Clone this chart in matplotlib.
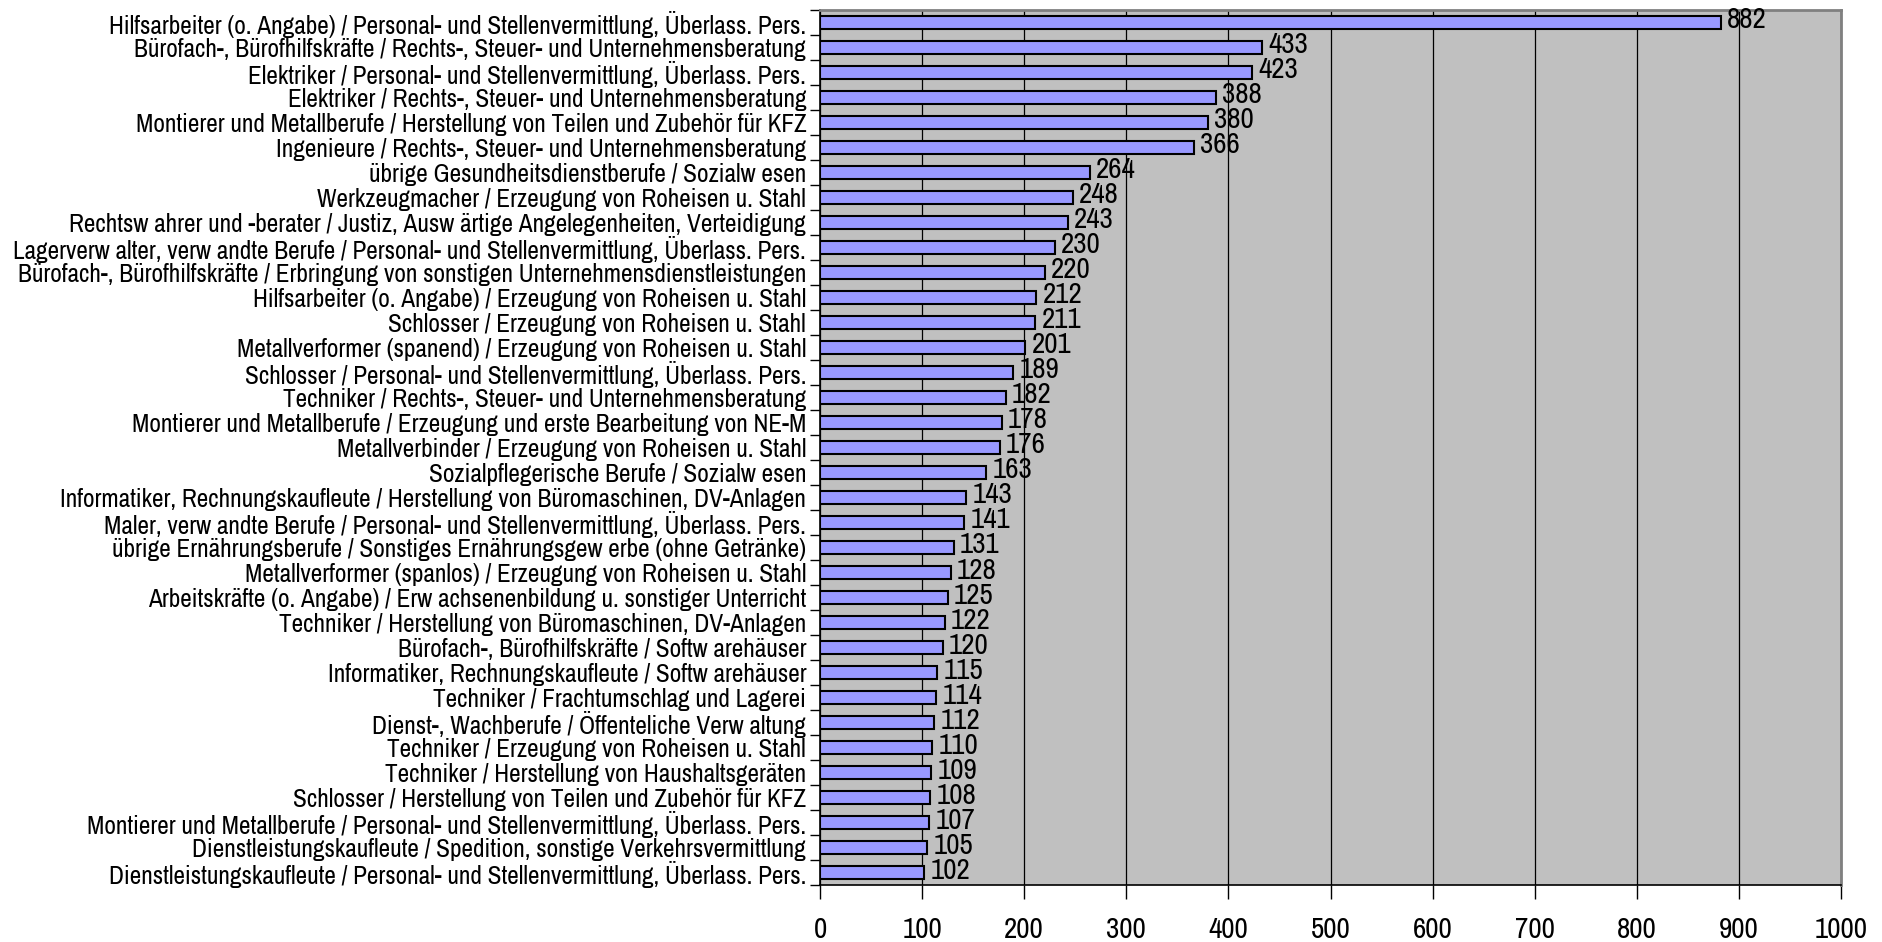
import matplotlib
matplotlib.use("Agg")
import matplotlib.pyplot as plt
from matplotlib import font_manager
from matplotlib.ticker import FixedLocator

categories = [
    "Hilfsarbeiter (o. Angabe) / Personal- und Stellenvermittlung, Überlass. Pers.",
    "Bürofach-, Bürofhilfskräfte / Rechts-, Steuer- und Unternehmensberatung",
    "Elektriker / Personal- und Stellenvermittlung, Überlass. Pers.",
    "Elektriker / Rechts-, Steuer- und Unternehmensberatung",
    "Montierer und Metallberufe / Herstellung von Teilen und Zubehör für KFZ",
    "Ingenieure / Rechts-, Steuer- und Unternehmensberatung",
    "übrige Gesundheitsdienstberufe / Sozialw esen",
    "Werkzeugmacher / Erzeugung von Roheisen u. Stahl",
    "Rechtsw ahrer und -berater / Justiz, Ausw ärtige Angelegenheiten, Verteidigung",
    "Lagerverw alter, verw andte Berufe / Personal- und Stellenvermittlung, Überlass. Pers.",
    "Bürofach-, Bürofhilfskräfte / Erbringung von sonstigen Unternehmensdienstleistungen",
    "Hilfsarbeiter (o. Angabe) / Erzeugung von Roheisen u. Stahl",
    "Schlosser / Erzeugung von Roheisen u. Stahl",
    "Metallverformer (spanend) / Erzeugung von Roheisen u. Stahl",
    "Schlosser / Personal- und Stellenvermittlung, Überlass. Pers.",
    "Techniker / Rechts-, Steuer- und Unternehmensberatung",
    "Montierer und Metallberufe / Erzeugung und erste Bearbeitung von NE-M",
    "Metallverbinder / Erzeugung von Roheisen u. Stahl",
    "Sozialpflegerische Berufe / Sozialw esen",
    "Informatiker, Rechnungskaufleute / Herstellung von Büromaschinen, DV-Anlagen",
    "Maler, verw andte Berufe / Personal- und Stellenvermittlung, Überlass. Pers.",
    "übrige Ernährungsberufe / Sonstiges Ernährungsgew erbe (ohne Getränke)",
    "Metallverformer (spanlos) / Erzeugung von Roheisen u. Stahl",
    "Arbeitskräfte (o. Angabe) / Erw achsenenbildung u. sonstiger Unterricht",
    "Techniker / Herstellung von Büromaschinen, DV-Anlagen",
    "Bürofach-, Bürofhilfskräfte / Softw arehäuser",
    "Informatiker, Rechnungskaufleute / Softw arehäuser",
    "Techniker / Frachtumschlag und Lagerei",
    "Dienst-, Wachberufe / Öffenteliche Verw altung",
    "Techniker / Erzeugung von Roheisen u. Stahl",
    "Techniker / Herstellung von Haushaltsgeräten",
    "Schlosser / Herstellung von Teilen und Zubehör für KFZ",
    "Montierer und Metallberufe / Personal- und Stellenvermittlung, Überlass. Pers.",
    "Dienstleistungskaufleute / Spedition, sonstige Verkehrsvermittlung",
    "Dienstleistungskaufleute / Personal- und Stellenvermittlung, Überlass. Pers.",
]
values = [882, 433, 423, 388, 380, 366, 264, 248, 243, 230, 220, 212, 211, 201,
          189, 182, 178, 176, 163, 143, 141, 131, 128, 125, 122, 120, 115, 114,
          112, 110, 109, 108, 107, 105, 102]
x_ticks = list(range(0, 1001, 100))

# prefer a narrow sans if one is installed, otherwise plain Liberation Sans
narrow = None
for f in font_manager.fontManager.ttflist:
    n = f.name.lower()
    if ("narrow" in n or "condensed" in n) and "mono" not in n and f.style == "normal" \
            and f.weight in (400, "normal", "regular"):
        narrow = f.name
        break
plt.rcParams["font.family"] = [narrow or "Liberation Sans", "DejaVu Sans"]

fig = plt.figure(figsize=(18.83, 9.42), dpi=100)
ax = fig.add_axes([0.4355, 0.0605, 0.5422, 0.9289])

ax.set_facecolor("#c0c0c0")
ypos = list(range(len(categories)))
ax.barh(ypos, values, height=0.5, color="#9999ff", edgecolor="black",
        linewidth=1.5, zorder=3)

for y, v in zip(ypos, values):
    ax.text(v + 6, y - 0.1, str(v), va="center", ha="left", fontsize=21, zorder=4)

ax.set_xlim(0, 1000)
ax.set_ylim(len(categories) - 0.5, -0.5)
ax.set_xticks(x_ticks)
ax.set_xticklabels([str(t) for t in x_ticks])
ax.xaxis.grid(True, color="black", linewidth=0.9, zorder=1)
ax.set_axisbelow(True)

# size category labels so the longest one fills the space left of the axes
renderer = fig.canvas.get_renderer()
widest = 0
for c in categories:
    t = fig.text(0, 0, c, fontsize=10)
    widest = max(widest, t.get_window_extent(renderer).width)
    t.remove()
label_size = min(20, 10 * 798 / widest)

ax.set_yticks(ypos)
ax.set_yticklabels(categories)
ax.yaxis.set_minor_locator(FixedLocator([i - 0.5 for i in range(len(categories) + 1)]))
ax.tick_params(axis="y", which="major", length=0, pad=10, labelsize=label_size)
ax.tick_params(axis="y", which="minor", length=7, width=1, direction="out")
ax.tick_params(axis="x", which="major", length=10, width=1, direction="out",
               pad=12, labelsize=21)

for side in ("top", "right"):
    ax.spines[side].set_color("#808080")
    ax.spines[side].set_linewidth(2)
for side in ("left", "bottom"):
    ax.spines[side].set_color("black")
    ax.spines[side].set_linewidth(1.2)

fig.savefig("out.png", dpi=100)
